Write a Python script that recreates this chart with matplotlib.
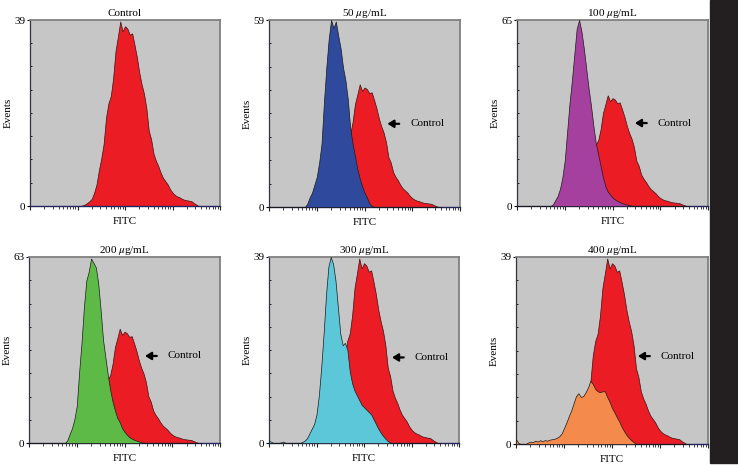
import numpy as np
import matplotlib
matplotlib.use("Agg")
import matplotlib.pyplot as plt
from matplotlib.ticker import FixedLocator, NullFormatter, LogLocator

plt.rcParams['font.family'] = ['Liberation Serif', 'DejaVu Serif']
plt.rcParams['mathtext.fontset'] = 'stix'

# FITC channel positions (log10 of fluorescence), 0.05-decade bins
channel_log = np.round(np.arange(0, 3.601, 0.05), 2)

control = [0]*22 + [
    0.1, 0.3, 0.6, 1.0, 1.5, 2.8, 4.5, 7.5, 10, 13,
    18.5, 21.5, 23, 26.8, 32.5, 35.5, 38.7, 36.6, 37.7, 37.2,
    35.9, 36.2, 33.8, 31.2, 28, 25.5, 23.5, 20.5, 15.8, 14,
    11, 9.5, 8.4, 7, 5.9, 5.2, 4.5, 3.5, 2.8, 2.3,
    2.0, 1.8, 1.5, 1.3, 1.2, 1.1, 1.0, 0.6, 0.3] + [0]*2

ug50 = [0]*15 + [
    0, 1, 3, 4.5, 7, 9.5, 14, 20, 33, 44,
    53, 59, 56.5, 58.5, 54, 50, 44, 40, 34, 25,
    20, 16, 12, 9, 6.5, 4.5, 3, 1.2, 0.3] + [0]*29

ug100 = [0]*14 + [
    0, 0.5, 2, 3.5, 6, 10, 16, 26, 36, 44,
    53, 62, 65, 61, 55, 48, 41, 35, 28, 22,
    18, 14, 10, 7, 5, 4, 3, 2.3, 1.8, 1.4,
    1.0, 0.7, 0.5, 0.3, 0.1] + [0]*24

ug200 = [0]*15 + [
    0, 0.8, 3, 5, 8, 12.5, 24, 34, 46, 55,
    58, 62.5, 61, 59.5, 54, 45, 35, 29, 23, 18,
    14, 11, 8.5, 7, 5, 3.8, 2.8, 2, 1.5, 1.1,
    0.8, 0.5, 0.3, 0.1] + [0]*24

ug300 = [
    0.5, 0.2, 0, 0, 0, 0.1, 0.3, 0, 0, 0,
    0, 0, 0, 0, 0.2, 0.5, 1, 2, 3, 4,
    6, 10, 16, 23, 31, 37, 39, 37.5, 34, 28.5,
    23, 20.5, 21, 19.5, 15, 12.5, 11, 10, 9, 8,
    7.5, 7, 6.5, 6, 5, 4, 3, 2.2, 1.5, 0.9,
    0.4, 0.1] + [0]*21

ug400 = [
    1.0, 0.2, 0, 0, 0, 0.3, 0.5, 0.4, 0.7, 0.5,
    0.8, 0.6, 0.8, 0.7, 0.9, 1.0, 1.1, 1.3, 1.6, 2.2,
    3.3, 4.5, 5.8, 7, 8.5, 10, 10.6, 9.8, 10, 10.8,
    11.8, 13.2, 12.5, 11.5, 11.0, 10.8, 11, 11, 9.8, 8.8,
    7.5, 6.6, 5.6, 4.7, 3.6, 2.7, 1.9, 1.3, 0.8, 0.4] + [0]*23

titles = ["Control", r"50 $\mu$g/mL", r"100 $\mu$g/mL",
          r"200 $\mu$g/mL", r"300 $\mu$g/mL", r"400 $\mu$g/mL"]
y_max = [39, 59, 65, 63, 39, 39]
treated = [None, ug50, ug100, ug200, ug300, ug400]
treated_colors = [None, '#2f4a9c', '#a5409f', '#5dba47', '#5cc7d8', '#f48a4c']
control_color = '#ec1c24'
arrow_tip_log = [None, 2.48, 2.47, 2.43, 2.59, 2.54]
arrow_frac = [None, 0.445, 0.446, 0.468, 0.46, 0.47]

# axes boxes in pixels (left, top, right, bottom)
W, H = 738, 465
boxes = [(30, 20, 220, 206), (269, 20, 460, 207), (517, 20, 708, 206),
         (29, 257, 220, 443), (269, 257, 459, 443), (516, 257, 708, 444)]

fig = plt.figure(figsize=(W/100, H/100), dpi=100)
fig.patches.append(plt.Rectangle((710/W, 1-463/H), 28/W, 463/H,
                                 transform=fig.transFigure, color='#231f20', zorder=0))

xs = 10 ** channel_log
for k in range(6):
    l, t, r, b = boxes[k]
    ax = fig.add_axes([l/W, 1-b/H, (r-l)/W, (b-t)/H])
    ax.set_facecolor('#c6c6c6')
    ax.set_xscale('log')
    ax.set_xlim(1, 1e4)
    ax.set_ylim(0, y_max[k])
    ax.fill_between(xs, control, 0, facecolor=control_color, edgecolor='#3a1010',
                    linewidth=0.5, zorder=2)
    if treated[k] is not None:
        ax.fill_between(xs, treated[k], 0, facecolor=treated_colors[k],
                        edgecolor='#1a1a1a', linewidth=0.5, zorder=3)
        yv = arrow_frac[k] * y_max[k]
        ax.annotate('Control', xy=(10**arrow_tip_log[k], yv),
                    xytext=(10**(arrow_tip_log[k] + 0.48), yv),
                    ha='left', va='center', fontsize=8,
                    arrowprops=dict(arrowstyle='-|>,head_length=0.45,head_width=0.28',
                                    color='black', lw=1.6, shrinkA=6, shrinkB=0),
                    zorder=5)
    ax.set_title(titles[k], fontsize=8, pad=3)
    ax.set_xlabel('FITC', fontsize=8, labelpad=1.5)
    ax.set_ylabel('Events', fontsize=8, labelpad=1)
    ax.xaxis.set_major_locator(FixedLocator([1, 10, 100, 1000, 10000]))
    ax.xaxis.set_minor_locator(LogLocator(base=10, subs=np.arange(2, 10), numticks=20))
    ax.xaxis.set_major_formatter(NullFormatter())
    ax.xaxis.set_minor_formatter(NullFormatter())
    ax.tick_params(axis='x', which='major', direction='out', length=3, width=0.8, color='#222222')
    ax.tick_params(axis='x', which='minor', direction='out', length=1.8, width=0.6, color='#222222')
    ax.yaxis.set_major_locator(FixedLocator([0, y_max[k]]))
    ax.yaxis.set_minor_locator(FixedLocator([y_max[k] * i / 8 for i in range(1, 8)]))
    ax.tick_params(axis='y', which='major', direction='out', length=2, width=0.8,
                   labelsize=8, pad=1.5)
    ax.tick_params(axis='y', which='minor', direction='in', length=1.5, width=0.6)
    for side in ['top', 'right']:
        ax.spines[side].set_color('#808080')
        ax.spines[side].set_linewidth(1.3)
    ax.spines['left'].set_color('#333340')
    ax.spines['bottom'].set_color('#252560')
    ax.spines['left'].set_linewidth(0.9)
    ax.spines['bottom'].set_linewidth(1.0)

fig.savefig('out.png', dpi=100)
